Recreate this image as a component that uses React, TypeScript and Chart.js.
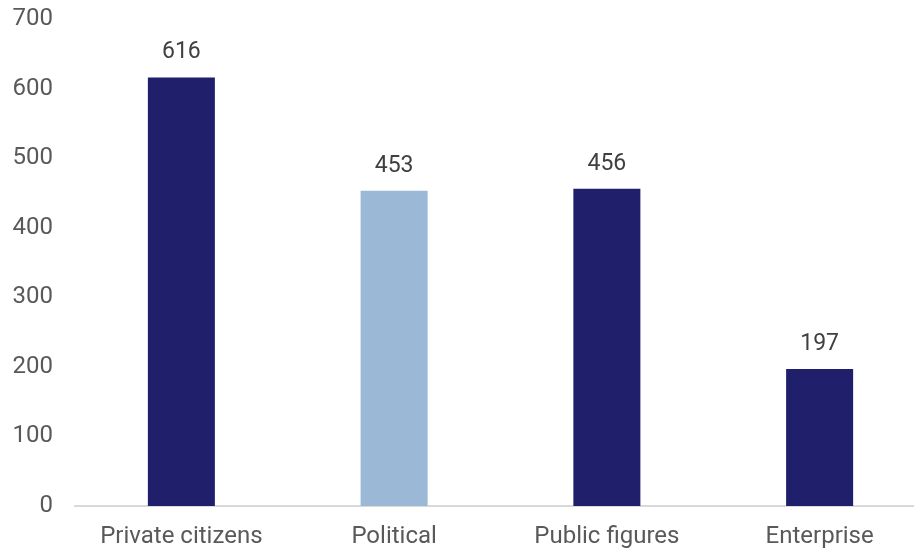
import React, { useEffect, useRef } from "react";
import { Chart, registerables } from "chart.js";

Chart.register(...registerables);

const categories = ["Private citizens", "Political", "Public figures", "Enterprise"];
const values = [616, 453, 456, 197];
const barColors = ["#1F1F6C", "#9BB8D7", "#1F1F6C", "#1F1F6C"];
const yTicks = [0, 100, 200, 300, 400, 500, 600, 700];

const valueLabels = {
  id: "valueLabels",
  afterDatasetsDraw(chart: any) {
    const ctx = chart.ctx;
    const meta = chart.getDatasetMeta(0);
    ctx.save();
    ctx.font = "23px Roboto";
    ctx.fillStyle = "#404040";
    ctx.textAlign = "center";
    ctx.textBaseline = "middle";
    meta.data.forEach((bar: any, i: number) => {
      ctx.fillText(String(values[i]), bar.x, bar.y - 25);
    });
    ctx.restore();
  },
};

export default function App() {
  const ref = useRef<HTMLCanvasElement>(null);
  useEffect(() => {
    document.body.style.margin = "0";
    const chart = new Chart(ref.current!, {
      type: "bar",
      data: {
        labels: categories,
        datasets: [
          {
            data: values,
            backgroundColor: barColors,
            categoryPercentage: 1,
            barPercentage: 0.315,
          },
        ],
      },
      options: {
        responsive: false,
        animation: false,
        maintainAspectRatio: false,
        layout: { padding: { top: 19, right: 0, bottom: 0, left: 0 } },
        plugins: { legend: { display: false }, tooltip: { enabled: false } },
        scales: {
          x: {
            afterFit: (s: any) => {
              s.height = 42;
            },
            grid: { display: false, drawTicks: false },
            border: { display: true, color: "#D9D9D9", width: 2 },
            ticks: { color: "#595959", font: { family: "Roboto", size: 24 }, padding: 17 },
          },
          y: {
            min: 0,
            max: 700,
            afterBuildTicks: (s: any) => {
              s.ticks = yTicks.map((v) => ({ value: v }));
            },
            afterFit: (s: any) => {
              s.width = 75;
              s.paddingTop = 0;
              s.paddingBottom = 0;
            },
            grid: { display: false, drawTicks: false },
            border: { display: false },
            ticks: { color: "#595959", font: { family: "Roboto", size: 24 }, padding: 22 },
          },
        },
      },
      plugins: [valueLabels],
    });
    return () => chart.destroy();
  }, []);
  return (
    <div style={{ width: 914, height: 548, overflow: "hidden" }}>
      <canvas ref={ref} width={926} height={548} style={{ display: "block" }} />
    </div>
  );
}
